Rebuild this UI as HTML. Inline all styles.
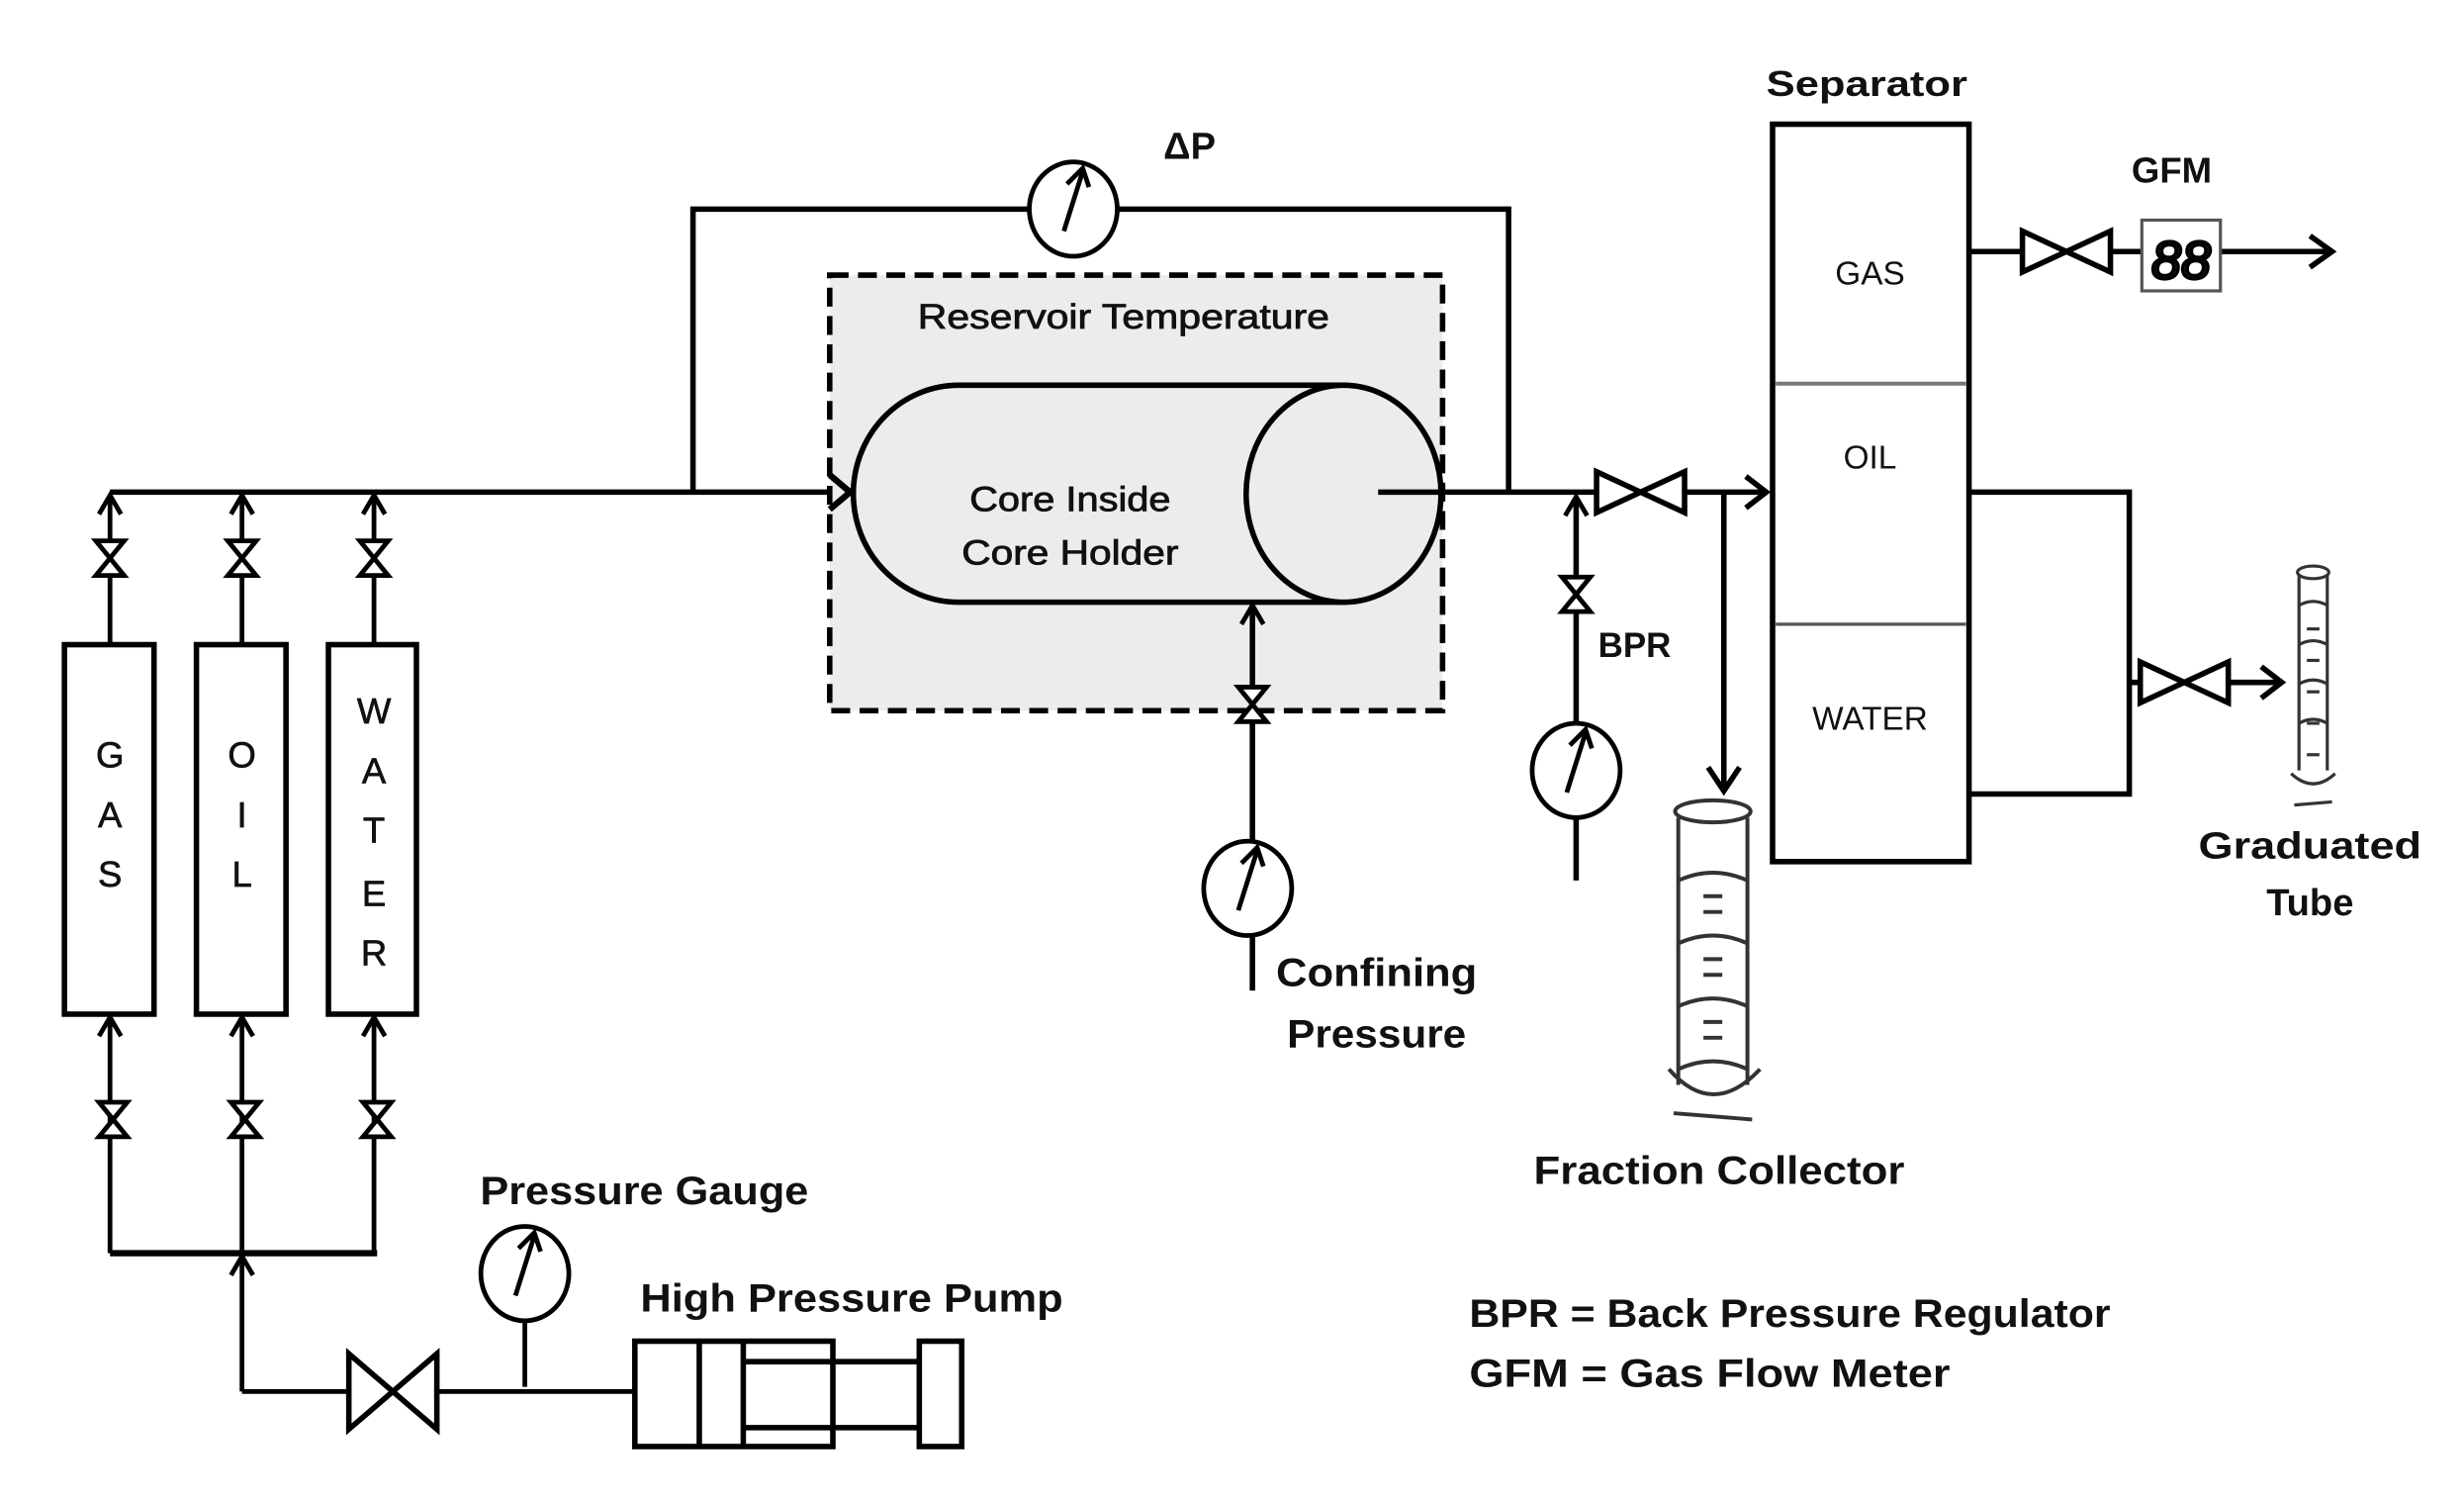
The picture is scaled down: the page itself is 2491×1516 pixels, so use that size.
<!DOCTYPE html>
<html><head><meta charset="utf-8"><style>
html,body{margin:0;padding:0;background:#fff;}
svg{display:block;}
text{font-family:"Liberation Sans",sans-serif;fill:#111;}
</style></head><body>
<svg width="2491" height="1516" viewBox="0 0 1568 954" preserveAspectRatio="none" xmlns="http://www.w3.org/2000/svg">
<defs>
<g id="vv"><polygon points="-9,-11 9,-11 0,0" fill="#fff" stroke="#000" stroke-width="3"/><polygon points="-9,11 9,11 0,0" fill="#fff" stroke="#000" stroke-width="3"/></g>
<g id="hv"><polygon points="-28,-24 -28,24 0,0" fill="#fff" stroke="#000" stroke-width="3.5"/><polygon points="28,-24 28,24 0,0" fill="#fff" stroke="#000" stroke-width="3.5"/></g>
<g id="hvs"><polygon points="-28,-13 -28,13 0,0" fill="#fff" stroke="#000" stroke-width="3.5"/><polygon points="28,-13 28,13 0,0" fill="#fff" stroke="#000" stroke-width="3.5"/></g>
<g id="gauge"><ellipse cx="0" cy="0" rx="28" ry="30" fill="#fff" stroke="#000" stroke-width="3"/><line x1="-6" y1="14" x2="6" y2="-24" stroke="#000" stroke-width="3"/><polyline points="-4,-16 6,-26 10,-14" fill="none" stroke="#000" stroke-width="3"/></g>
<g id="au"><polyline points="-7,12 0,0 7,12" fill="none" stroke="#000" stroke-width="3"/></g>
</defs>
<g stroke="#000" stroke-width="3.5" fill="none">
<polyline points="441,313 441,133 960,133 960,313"/>
<line x1="70" y1="313" x2="538" y2="313"/>
</g>
<use href="#gauge" x="683" y="133"/>
<text x="757" y="101" font-size="24" text-anchor="middle" font-weight="bold">ΔP</text>
<rect x="528" y="175" width="390" height="277" fill="#ececec" stroke="#000" stroke-width="3.5" stroke-dasharray="12,6"/>
<text x="715" y="209" font-size="22" text-anchor="middle" textLength="262" lengthAdjust="spacingAndGlyphs" stroke="#111" stroke-width="0.5">Reservoir Temperature</text>
<path d="M610,245 L855,245 L855,383 L610,383 A67,69 0 0 1 610,245 Z" fill="#ececec" stroke="#000" stroke-width="3.5"/>
<ellipse cx="855" cy="314" rx="62" ry="69" fill="#ececec" stroke="#000" stroke-width="3.5"/>
<text x="681" y="325" font-size="22" text-anchor="middle" textLength="128" lengthAdjust="spacingAndGlyphs" stroke="#111" stroke-width="0.5">Core Inside</text>
<text x="681" y="359" font-size="22" text-anchor="middle" textLength="138" lengthAdjust="spacingAndGlyphs" stroke="#111" stroke-width="0.5">Core Holder</text>
<polyline points="528,302 541,313 528,324" fill="none" stroke="#000" stroke-width="4"/>
<g stroke="#000" stroke-width="3.5" fill="none">
<line x1="877" y1="313" x2="1124" y2="313"/>
<polyline points="1111,303 1124,313 1111,323"/>
<line x1="797" y1="385" x2="797" y2="630"/>
<line x1="1003" y1="316" x2="1003" y2="560"/>
<line x1="1097" y1="313" x2="1097" y2="503"/>
<polyline points="1087,488 1097,503 1107,488"/>
<rect x="1128" y="79" width="125" height="469"/>
<line x1="1253" y1="160" x2="1484" y2="160"/>
<polyline points="1470,150 1484,160 1470,170"/>
<polyline points="1253,313 1355,313 1355,505 1253,505"/>
<line x1="1355" y1="434" x2="1452" y2="434"/>
<polyline points="1439,424 1452,434 1439,444"/>
</g>
<line x1="1130" y1="244" x2="1251" y2="244" stroke="#777" stroke-width="2.5"/>
<line x1="1130" y1="397" x2="1251" y2="397" stroke="#555" stroke-width="2"/>
<use href="#au" x="797" y="385"/>
<use href="#vv" x="797" y="448"/>
<use href="#gauge" x="794" y="565"/>
<use href="#au" x="1003" y="316"/>
<use href="#vv" x="1003" y="378"/>
<use href="#gauge" x="1003" y="490"/>
<use href="#hvs" x="1044" y="313"/>
<use href="#hvs" x="1315" y="160"/>
<use href="#hvs" x="1390" y="434"/>
<text x="1017" y="418" font-size="22" font-weight="bold">BPR</text>
<text x="1188" y="61" font-size="23" text-anchor="middle" font-weight="bold" textLength="128" lengthAdjust="spacingAndGlyphs">Separator</text>
<text x="1190" y="181" font-size="21" text-anchor="middle">GAS</text>
<text x="1190" y="298" font-size="21" text-anchor="middle">OIL</text>
<text x="1190" y="464" font-size="21" text-anchor="middle">WATER</text>
<text x="1382" y="116" font-size="23" text-anchor="middle" font-weight="bold">GFM</text>
<rect x="1363" y="140" width="50" height="45" fill="#fff" stroke="#555" stroke-width="2"/>
<text x="1388" y="177" font-size="34" text-anchor="middle" font-style="italic" fill="none" stroke="#000" stroke-width="2">88</text>
<g stroke="#333" stroke-width="2" fill="none">
<ellipse cx="1472" cy="364" rx="10" ry="4"/>
<line x1="1463" y1="366" x2="1463" y2="490"/><line x1="1481" y1="366" x2="1481" y2="490"/>
<path d="M1463,385 Q1472,380 1481,385"/><path d="M1463,410 Q1472,405 1481,410"/><path d="M1463,435 Q1472,430 1481,435"/><path d="M1463,460 Q1472,455 1481,460"/>
<path d="M1458,492 Q1472,505 1486,492"/><path d="M1460,512 L1484,510"/>
<line x1="1468" y1="400" x2="1476" y2="400"/><line x1="1468" y1="420" x2="1476" y2="420"/><line x1="1468" y1="440" x2="1476" y2="440"/><line x1="1468" y1="460" x2="1476" y2="460"/><line x1="1468" y1="480" x2="1476" y2="480"/>
</g>
<text x="1470" y="546" font-size="24" text-anchor="middle" font-weight="bold" textLength="142" lengthAdjust="spacingAndGlyphs">Graduated</text>
<text x="1470" y="582" font-size="24" text-anchor="middle" font-weight="bold">Tube</text>
<g stroke="#333" stroke-width="2.5" fill="none">
<ellipse cx="1090" cy="516" rx="24" ry="7"/>
<line x1="1068" y1="520" x2="1068" y2="690"/><line x1="1112" y1="520" x2="1112" y2="690"/>
<path d="M1068,560 Q1090,550 1112,560"/><path d="M1068,600 Q1090,590 1112,600"/><path d="M1068,640 Q1090,630 1112,640"/><path d="M1068,680 Q1090,670 1112,680"/>
<path d="M1062,680 Q1090,712 1120,680"/><path d="M1065,708 L1115,712"/>
<line x1="1084" y1="570" x2="1096" y2="570"/><line x1="1084" y1="580" x2="1096" y2="580"/><line x1="1084" y1="610" x2="1096" y2="610"/><line x1="1084" y1="620" x2="1096" y2="620"/><line x1="1084" y1="650" x2="1096" y2="650"/><line x1="1084" y1="660" x2="1096" y2="660"/>
</g>
<text x="1094" y="753" font-size="25" text-anchor="middle" font-weight="bold" textLength="236" lengthAdjust="spacingAndGlyphs">Fraction Collector</text>
<text x="876" y="627" font-size="25" text-anchor="middle" font-weight="bold" textLength="128" lengthAdjust="spacingAndGlyphs">Confining</text>
<text x="876" y="666" font-size="25" text-anchor="middle" font-weight="bold" textLength="114" lengthAdjust="spacingAndGlyphs">Pressure</text>
<g stroke="#000" stroke-width="3.5" fill="#fff">
<rect x="41" y="410" width="57" height="235"/>
<rect x="125" y="410" width="57" height="235"/>
<rect x="209" y="410" width="56" height="235"/>
</g>
<g stroke="#000" stroke-width="3" fill="none">
<line x1="70" y1="315" x2="70" y2="410"/><line x1="154" y1="315" x2="154" y2="410"/><line x1="238" y1="315" x2="238" y2="410"/>
<line x1="70" y1="647" x2="70" y2="797"/><line x1="154" y1="647" x2="154" y2="885"/><line x1="238" y1="647" x2="238" y2="797"/>
<line x1="70" y1="797" x2="240" y2="797" stroke-width="4"/>
<polyline points="154,885 404,885"/>
<line x1="334" y1="838" x2="334" y2="882"/>
</g>
<use href="#au" x="70" y="315"/><use href="#au" x="154" y="315"/><use href="#au" x="238" y="315"/>
<use href="#au" x="70" y="647"/><use href="#au" x="154" y="647"/><use href="#au" x="238" y="647"/>
<use href="#au" x="154" y="799"/>
<use href="#vv" x="70" y="355"/><use href="#vv" x="154" y="355"/><use href="#vv" x="238" y="355"/>
<use href="#vv" x="72" y="712"/><use href="#vv" x="156" y="712"/><use href="#vv" x="240" y="712"/>
<g font-size="23" text-anchor="middle" stroke="#111" stroke-width="0.4">
<text x="70" y="488">G</text><text x="70" y="526">A</text><text x="70" y="564">S</text>
<text x="154" y="488">O</text><text x="154" y="526">I</text><text x="154" y="564">L</text>
<text x="238" y="460">W</text><text x="238" y="498">A</text><text x="238" y="536">T</text><text x="238" y="576">E</text><text x="238" y="614">R</text>
</g>
<use href="#hv" x="250" y="885"/>
<use href="#gauge" x="334" y="810"/>
<g stroke="#000" stroke-width="3.5" fill="#fff">
<rect x="404" y="853" width="126" height="67"/>
<line x1="445" y1="853" x2="445" y2="920"/><line x1="473" y1="853" x2="473" y2="920"/>
<line x1="473" y1="866" x2="585" y2="866"/><line x1="473" y1="908" x2="585" y2="908"/>
<rect x="585" y="853" width="27" height="67"/>
</g>
<text x="410" y="766" font-size="25" text-anchor="middle" font-weight="bold" textLength="209" lengthAdjust="spacingAndGlyphs">Pressure Gauge</text>
<text x="542" y="834" font-size="25" text-anchor="middle" font-weight="bold" textLength="269" lengthAdjust="spacingAndGlyphs">High Pressure Pump</text>
<text x="935" y="844" font-size="25" font-weight="bold" textLength="408" lengthAdjust="spacingAndGlyphs">BPR = Back Pressure Regulator</text>
<text x="935" y="882" font-size="25" font-weight="bold" textLength="306" lengthAdjust="spacingAndGlyphs">GFM = Gas Flow Meter</text>
</svg>
</body></html>
